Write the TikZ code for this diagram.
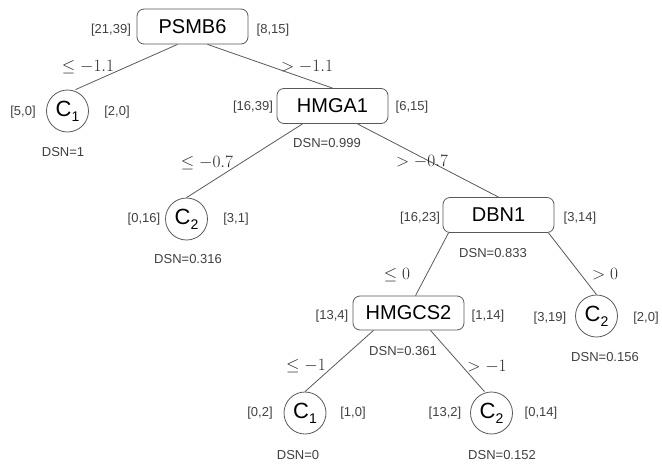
\documentclass[tikz,border=0pt]{standalone}
\usepackage{fontspec}
\newfontfamily\arial{Liberation Sans}
\begin{document}
\begin{tikzpicture}[x=1pt,y=-1pt,
  split/.style={draw=black!65, line width=0.8pt, rounded corners=7pt,
    minimum width=111pt, minimum height=35pt, inner sep=0pt,
    font=\arial\fontsize{20}{20}\selectfont},
  leaf/.style={draw=black!65, line width=0.8pt, circle, minimum size=42pt,
    inner sep=0pt, font=\arial\fontsize{22}{22}\selectfont},
  count/.style={text=black!75, font=\arial\fontsize{13}{14}\selectfont, inner sep=0pt},
  cond/.style={text=black!85, font=\fontsize{18}{18}\selectfont, inner sep=0pt},
  branch/.style={draw=black!65, line width=0.8pt}]
\useasboundingbox (0,0) rectangle (662,464);
\newcommand{\cls}[1]{C\raisebox{-5pt}{\fontsize{14}{14}\selectfont #1}}

% split nodes
\node[split] (psmb) at (192.5,26.5) {PSMB6};
\node[split] (hmga) at (332.5,106) {HMGA1};
\node[split] (dbn) at (498.5,215) {DBN1};
\node[split, minimum height=34pt] (hmgcs) at (408.5,313) {HMGCS2};

% leaves
\node[leaf] (la) at (67.5,111) {\cls{1}};
\node[leaf] (lb) at (186.5,219) {\cls{2}};
\node[leaf] (lc) at (596.5,316) {\cls{2}};
\node[leaf] (ld) at (305,413) {\cls{1}};
\node[leaf] (le) at (491.5,413) {\cls{2}};

% branches
\draw[branch] ([xshift=-15pt]psmb.south) -- ([xshift=8pt]la.north);
\draw[branch] ([xshift=15pt]psmb.south) -- (hmga.north);
\draw[branch] ([xshift=-30pt]hmga.south) -- (lb.north);
\draw[branch] ([xshift=25pt]hmga.south) -- (dbn.north);
\draw[branch] ([xshift=-50pt]dbn.south) -- ([xshift=7pt]hmgcs.north);
\draw[branch] ([xshift=50pt]dbn.south) -- (lc.north);
\draw[branch] ([xshift=-35pt]hmgcs.south) -- (ld.north);
\draw[branch] ([xshift=22pt]hmgcs.south) -- ([xshift=-7pt]le.north);

% branch conditions
\node[cond] (ca) at (88,67) {$\leq -1.1$};
\node[cond] (cb) at (307,67) {$> -1.1$};
\node[cond] (cc) at (207,163) {$\leq -0.7$};
\node[cond] (cd) at (422,162) {$> -0.7$};
\node[cond] (ce) at (397,275) {$\leq 0$};
\node[cond] (cf) at (605,274) {$> 0$};
\node[cond] (cg) at (306,366) {$\leq -1$};
\node[cond] (ch) at (487,367) {$> -1$};

% class counts and DSN values
\node[count] (n1l) at (111,30) {[21,39]};
\node[count] (n1r) at (273,30) {[8,15]};
\node[count] (a1l) at (23,112) {[5,0]};
\node[count] (a1r) at (117,112) {[2,0]};
\node[count] (a1d) at (63,152) {DSN=1};
\node[count] (n2l) at (253,107) {[16,39]};
\node[count] (n2r) at (412,107) {[6,15]};
\node[count] (n2d) at (327,143) {DSN=0.999};
\node[count] (b1l) at (144,219) {[0,16]};
\node[count] (b1r) at (236,219) {[3,1]};
\node[count] (b1d) at (188,259) {DSN=0.316};
\node[count] (n3l) at (420,218) {[16,23]};
\node[count] (n3r) at (580,218) {[3,14]};
\node[count] (n3d) at (493,253) {DSN=0.833};
\node[count] (n4l) at (332,316) {[13,4]};
\node[count] (n4r) at (488,316) {[1,14]};
\node[count] (n4d) at (403,351) {DSN=0.361};
\node[count] (c1l) at (550,318) {[3,19]};
\node[count] (c1r) at (646,318) {[2,0]};
\node[count] (c1d) at (605,357) {DSN=0.156};
\node[count] (d1l) at (260,413) {[0,2]};
\node[count] (d1r) at (353,413) {[1,0]};
\node[count] (d1d) at (298,455) {DSN=0};
\node[count] (e1l) at (445,413) {[13,2]};
\node[count] (e1r) at (541,413) {[0,14]};
\node[count] (e1d) at (502,455) {DSN=0.152};
\end{tikzpicture}
\end{document}
